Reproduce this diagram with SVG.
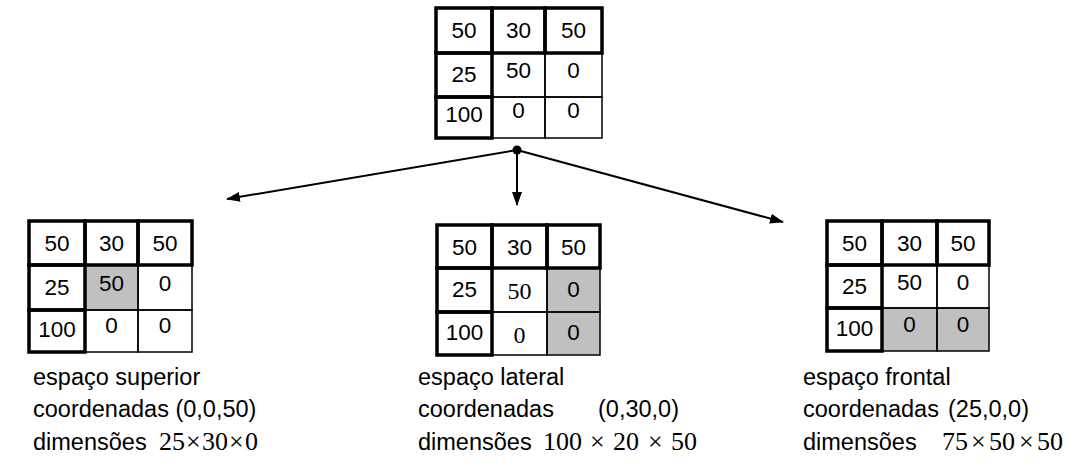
<svg xmlns="http://www.w3.org/2000/svg" width="1084" height="466" viewBox="0 0 1084 466">
  <style>
    .thin { fill: none; stroke: #000; stroke-width: 1.5; }
    .thick { fill: none; stroke: #000; stroke-width: 3.5; }
    .shade { fill: #c0c0c0; stroke: none; }
    .num { font-family: "Liberation Sans", Arial, sans-serif; font-size: 22.5px; fill: #000; text-anchor: middle; }
    .num-serif { font-family: "Liberation Serif", "Times New Roman", serif; font-size: 24px; fill: #000; text-anchor: middle; }
    .label { font-family: "Liberation Sans", Arial, sans-serif; font-size: 23.5px; fill: #000; }
    .math { font-family: "Liberation Serif", "Times New Roman", serif; font-size: 26px; fill: #000; }
    .conn { stroke: #000; stroke-width: 2; fill: none; }
  </style>
  <defs>
    <marker id="arrow" viewBox="0 0 14 10" refX="13" refY="5" markerWidth="14" markerHeight="10" markerUnits="userSpaceOnUse" orient="auto">
      <path d="M0,0 L14,5 L0,10 z" fill="#000"/>
    </marker>
  </defs>

  <rect width="1084" height="466" fill="#fff"/>

  <!-- source table -->
  <g id="table-top">
    <rect class="thin" x="492" y="53" width="53" height="44"/>
    <rect class="thin" x="545" y="53" width="57" height="44"/>
    <rect class="thin" x="492" y="97" width="53" height="41"/>
    <rect class="thin" x="545" y="97" width="57" height="41"/>
    <rect class="thick" x="436" y="8" width="56" height="45"/>
    <rect class="thick" x="492" y="8" width="53" height="45"/>
    <rect class="thick" x="545" y="8" width="57" height="45"/>
    <rect class="thick" x="436" y="53" width="56" height="44"/>
    <rect class="thick" x="436" y="97" width="56" height="41"/>
    <text class="num" x="464" y="38">50</text>
    <text class="num" x="518.5" y="38">30</text>
    <text class="num" x="573.5" y="38">50</text>
    <text class="num" x="464" y="82">25</text>
    <text class="num" x="518.5" y="78">50</text>
    <text class="num" x="573.5" y="78">0</text>
    <text class="num" x="464" y="122">100</text>
    <text class="num" x="518.5" y="118">0</text>
    <text class="num" x="573.5" y="118">0</text>
  </g>

  <!-- upper space -->
  <g id="table-superior">
    <rect class="shade" x="85" y="265" width="53" height="45"/>
    <rect class="thin" x="85" y="265" width="53" height="45"/>
    <rect class="thin" x="138" y="265" width="54" height="45"/>
    <rect class="thin" x="85" y="310" width="53" height="42"/>
    <rect class="thin" x="138" y="310" width="54" height="42"/>
    <rect class="thick" x="29" y="221" width="56" height="44"/>
    <rect class="thick" x="85" y="221" width="53" height="44"/>
    <rect class="thick" x="138" y="221" width="54" height="44"/>
    <rect class="thick" x="29" y="265" width="56" height="45"/>
    <rect class="thick" x="29" y="310" width="56" height="42"/>
    <text class="num" x="57" y="251">50</text>
    <text class="num" x="111.5" y="251">30</text>
    <text class="num" x="165" y="251">50</text>
    <text class="num" x="57" y="295">25</text>
    <text class="num" x="111.5" y="291">50</text>
    <text class="num" x="165" y="291">0</text>
    <text class="num" x="57" y="337">100</text>
    <text class="num" x="111.5" y="333">0</text>
    <text class="num" x="165" y="333">0</text>
    <text class="label" x="33" y="385">espaço superior</text>
    <text class="label" x="33" y="417">coordenadas (0,0,50)</text>
    <text class="label" x="33" y="450">dimensões</text>
    <text class="math" y="450"><tspan x="159">25</tspan><tspan x="186">×</tspan><tspan x="202">30</tspan><tspan x="229">×</tspan><tspan x="245">0</tspan></text>
  </g>

  <!-- lateral space -->
  <g id="table-lateral">
    <rect class="shade" x="547" y="268" width="53" height="87"/>
    <rect class="thin" x="492" y="268" width="55" height="44"/>
    <rect class="thin" x="547" y="268" width="53" height="44"/>
    <rect class="thin" x="492" y="312" width="55" height="43"/>
    <rect class="thin" x="547" y="312" width="53" height="43"/>
    <rect class="thick" x="437" y="225" width="55" height="43"/>
    <rect class="thick" x="492" y="225" width="55" height="43"/>
    <rect class="thick" x="547" y="225" width="53" height="43"/>
    <rect class="thick" x="437" y="268" width="55" height="44"/>
    <rect class="thick" x="437" y="312" width="55" height="43"/>
    <text class="num" x="464.5" y="255">50</text>
    <text class="num" x="519.5" y="255">30</text>
    <text class="num" x="573.5" y="255">50</text>
    <text class="num" x="464.5" y="297">25</text>
    <text class="num-serif" x="519.5" y="299">50</text>
    <text class="num" x="573.5" y="297">0</text>
    <text class="num" x="464.5" y="340">100</text>
    <text class="num-serif" x="519.5" y="343">0</text>
    <text class="num" x="573.5" y="340">0</text>
    <text class="label" x="418" y="385">espaço lateral</text>
    <text class="label" x="418" y="417">coordenadas</text>
    <text class="label" x="598" y="417">(0,30,0)</text>
    <text class="label" x="418" y="450">dimensões</text>
    <text class="math" y="450"><tspan x="543">100</tspan><tspan x="590">×</tspan><tspan x="613">20</tspan><tspan x="648">×</tspan><tspan x="671">50</tspan></text>
  </g>

  <!-- frontal space -->
  <g id="table-frontal">
    <rect class="shade" x="882" y="308" width="107" height="43"/>
    <rect class="thin" x="882" y="265" width="55" height="43"/>
    <rect class="thin" x="937" y="265" width="52" height="43"/>
    <rect class="thin" x="882" y="308" width="55" height="43"/>
    <rect class="thin" x="937" y="308" width="52" height="43"/>
    <rect class="thick" x="827" y="221" width="55" height="44"/>
    <rect class="thick" x="882" y="221" width="55" height="44"/>
    <rect class="thick" x="937" y="221" width="52" height="44"/>
    <rect class="thick" x="827" y="265" width="55" height="43"/>
    <rect class="thick" x="827" y="308" width="55" height="43"/>
    <text class="num" x="854.5" y="251">50</text>
    <text class="num" x="909.5" y="251">30</text>
    <text class="num" x="963" y="251">50</text>
    <text class="num" x="854.5" y="294">25</text>
    <text class="num" x="909.5" y="290">50</text>
    <text class="num" x="963" y="290">0</text>
    <text class="num" x="854.5" y="336">100</text>
    <text class="num" x="909.5" y="332">0</text>
    <text class="num" x="963" y="332">0</text>
    <text class="label" x="803" y="385">espaço frontal</text>
    <text class="label" x="803" y="417">coordenadas</text>
    <text class="label" x="948" y="417">(25,0,0)</text>
    <text class="label" x="803" y="450">dimensões</text>
    <text class="math" y="450"><tspan x="942">75</tspan><tspan x="971">×</tspan><tspan x="989">50</tspan><tspan x="1019">×</tspan><tspan x="1037">50</tspan></text>
  </g>

  <!-- connectors: split point under the source table -->
  <g id="connectors">
    <line class="conn" x1="517" y1="150" x2="227" y2="199" marker-end="url(#arrow)"/>
    <line class="conn" x1="517" y1="150" x2="517" y2="205" marker-end="url(#arrow)"/>
    <line class="conn" x1="517" y1="150" x2="783" y2="222" marker-end="url(#arrow)"/>
    <circle cx="517" cy="150" r="4.5" fill="#000"/>
  </g>
</svg>
